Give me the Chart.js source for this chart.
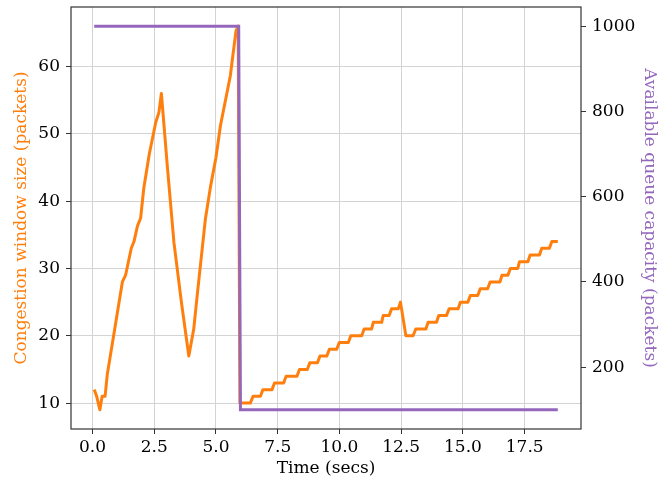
<!DOCTYPE html>
<html>
<head>
<meta charset="utf-8">
<script src="https://cdn.jsdelivr.net/npm/chart.js@4"></script>
<style>
  html, body { margin: 0; padding: 0; background: #fff; }
</style>
</head>
<body>
<canvas id="chart" width="670" height="484"></canvas>
<script>
// congestion window (orange, left axis)
const cwndTime = [
  0.07, 0.17, 0.3, 0.39, 0.51, 0.6, 0.9, 1.21, 1.34, 1.57, 1.68, 1.82, 1.95, 2.08, 2.3, 2.56, 2.69, 2.79,
  3.03, 3.3, 3.6, 3.9, 4.1, 4.24, 4.57, 4.78, 5.0, 5.18, 5.58, 5.81, 5.9, 5.97,
  6.39, 6.5, 6.8, 6.9, 7.27, 7.37, 7.74, 7.84, 8.28, 8.38, 8.7, 8.8, 9.11, 9.21, 9.49, 9.59, 9.89,
  9.99, 10.36, 10.46, 10.9, 11.0, 11.3, 11.37, 11.71, 11.77, 12.01, 12.11, 12.38, 12.47,
  12.69, 12.98, 13.09, 13.5, 13.59, 13.93, 14.02, 14.33, 14.44, 14.8, 14.9, 15.2, 15.3, 15.6,
  15.7, 16.0, 16.1, 16.5, 16.58, 16.82, 16.92, 17.22, 17.29, 17.63, 17.72, 18.1, 18.19, 18.5, 18.6, 18.84
];
const cwndPackets = [
  12, 11, 9, 11, 11, 14.3, 21, 28, 29, 33, 34, 36.3, 37.5, 42, 47, 51.7, 53.2, 56,
  45.2, 33.8, 25, 17, 21, 26, 37.3, 42.2, 46.5, 51.2, 58.6, 65.3, 66, 10,
  10, 11, 11, 12, 12, 13, 13, 14, 14, 15, 15, 16, 16, 17, 17, 18, 18,
  19, 19, 20, 20, 21, 21, 22, 22, 23, 23, 24, 24, 25,
  20, 20, 21, 21, 22, 22, 23, 23, 24, 24, 25, 25, 26, 26,
  27, 27, 28, 28, 29, 29, 30, 30, 31, 31, 32, 32, 33, 33, 34, 34
];

// available queue capacity (purple, right axis)
const queueTime = [0.07, 5.92, 5.99, 18.84];
const queueCapacity = [1000, 1000, 100, 100];

// tick labels
const xTicks = [0, 2.5, 5, 7.5, 10, 12.5, 15, 17.5];
const cwndTicks = [10, 20, 30, 40, 50, 60];
const queueTicks = [200, 400, 600, 800, 1000];

const cwndPoints = cwndTime.map((t, i) => ({x: t, y: cwndPackets[i]}));
const queuePoints = queueTime.map((t, i) => ({x: t, y: queueCapacity[i]}));

const font = {family: "'DejaVu Serif'", size: 17};
const gridColor = '#d3d3d3';
const tickColor = '#333';

const setTicks = (list) => (s) => { s.ticks = list.map(v => ({value: v})); };
const fitWidth = (w) => (s) => { s.width = w; s.paddingTop = 0; s.paddingBottom = 0; };

const frame = {
  id: 'frame',
  afterDatasetsDraw(chart) {
    const a = chart.chartArea;
    const ctx = chart.ctx;
    ctx.save();
    ctx.strokeStyle = '#333';
    ctx.lineWidth = 1.2;
    ctx.strokeRect(a.left, a.top, a.right - a.left, a.bottom - a.top);
    ctx.restore();
  }
};

new Chart(document.getElementById('chart'), {
  type: 'line',
  data: {
    datasets: [{
      label: 'Available queue capacity',
      data: queuePoints,
      yAxisID: 'y2',
      borderColor: '#9467bd',
      borderWidth: 3,
      pointRadius: 0,
      tension: 0
    }, {
      label: 'Congestion window size',
      data: cwndPoints,
      yAxisID: 'y',
      borderColor: '#ff7f0e',
      borderWidth: 3,
      borderJoinStyle: 'round',
      pointRadius: 0,
      tension: 0
    }]
  },
  options: {
    responsive: false,
    animation: false,
    layout: {padding: {top: 7, left: 0, right: 0, bottom: 0}},
    plugins: {legend: {display: false}, tooltip: {enabled: false}},
    scales: {
      x: {
        type: 'linear',
        min: -0.87,
        max: 19.78,
        afterFit: (s) => { s.height = 55; s.paddingLeft = 0; s.paddingRight = 0; },
        afterBuildTicks: setTicks(xTicks),
        border: {display: false},
        grid: {color: gridColor, tickColor: tickColor, tickLength: 5},
        ticks: {font: font, color: '#000', padding: 3, maxRotation: 0, autoSkip: false,
          callback: (v) => v.toFixed(1)},
        title: {display: true, text: 'Time (secs)', font: font, color: '#000', padding: {top: 0, bottom: 5}}
      },
      y: {
        position: 'left',
        min: 6.15,
        max: 68.85,
        afterFit: fitWidth(71),
        afterBuildTicks: setTicks(cwndTicks),
        border: {display: false},
        grid: {color: gridColor, tickColor: tickColor, tickLength: 5},
        ticks: {font: font, color: '#000', padding: 6, autoSkip: false},
        title: {display: true, text: 'Congestion window size (packets)', font: font, color: '#ff7f0e', padding: {top: 11, bottom: 0}}
      },
      y2: {
        position: 'right',
        min: 55,
        max: 1045,
        afterFit: fitWidth(89),
        afterBuildTicks: setTicks(queueTicks),
        border: {display: false},
        grid: {drawOnChartArea: false, tickColor: tickColor, tickLength: 5},
        ticks: {font: font, color: '#000', padding: 6, autoSkip: false, callback: (v) => String(v)},
        title: {display: true, text: 'Available queue capacity (packets)', font: font, color: '#9467bd', padding: {top: 10, bottom: 0}}
      }
    }
  },
  plugins: [frame]
});
</script>
</body>
</html>
